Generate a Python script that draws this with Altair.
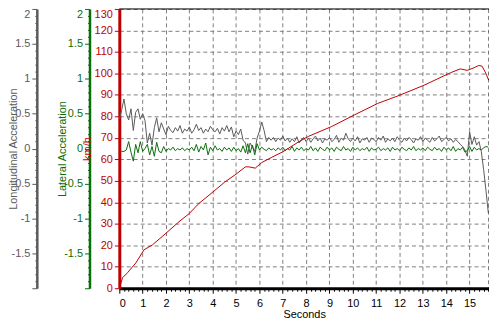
import altair as alt
import pandas as pd

# Longitudinal acceleration (g), sampled every 0.1 s from 0 to 15.8 s
longitudinal = [
    0.42, 0.55, 0.71, 0.50, 0.41, 0.57, 0.26, 0.52, 0.57, 0.42,
    0.50, 0.40, 0.08, 0.22, 0.05, 0.30, 0.44, 0.24, 0.37, 0.28,
    0.20, 0.32, 0.26, 0.23, 0.30, 0.25, 0.33, 0.22, 0.28, 0.25,
    0.31, 0.22, 0.27, 0.35, 0.26, 0.30, 0.22, 0.28, 0.24, 0.32,
    0.27, 0.24, 0.29, 0.21, 0.30, 0.25, 0.33, 0.24, 0.31, 0.17,
    0.25, 0.20, 0.28, 0.12, 0.08, -0.08, 0.08, 0.02, -0.04, 0.15,
    0.25, 0.38, 0.26, 0.10, 0.16, 0.12, 0.16, 0.10, 0.15, 0.12,
    0.18, 0.11, 0.15, 0.09, 0.14, 0.10, 0.17, 0.08, 0.13, 0.16,
    0.10, 0.15, 0.09, 0.14, 0.18, 0.11, 0.15, 0.08, 0.14, 0.12,
    0.16, 0.10, 0.13, 0.19, 0.09, 0.15, 0.12, 0.22, 0.14, 0.10,
    0.15, 0.11, 0.17, 0.08, 0.14, 0.12, 0.16, 0.09, 0.15, 0.13,
    0.10, 0.16, 0.12, 0.18, 0.09, 0.14, 0.11, 0.15, 0.10, 0.17,
    0.12, 0.09, 0.15, 0.11, 0.16, 0.13, 0.08, 0.14, 0.12, 0.17,
    0.10, 0.15, 0.12, 0.09, 0.16, 0.11, 0.14, 0.18, 0.10, 0.13,
    0.16, 0.11, 0.14, 0.09, 0.13, 0.10, 0.06, 0.03, -0.02, -0.11,
    0.24, 0.06, 0.17, 0.05, 0.10, -0.04, -0.30, -0.60, -0.92,
]

# Lateral acceleration (g), sampled every 0.1 s from 0 to 15.8 s
lateral = [
    -0.04, -0.04, -0.04, -0.02, 0.10, -0.05, -0.18, 0.06, -0.06, 0.10,
    -0.04, 0.00, 0.06, -0.09, 0.03, -0.11, 0.09, -0.04, -0.06, 0.03,
    -0.04, 0.00, -0.02, 0.02, -0.03, 0.00, -0.02, 0.01, -0.03, 0.00,
    -0.02, 0.02, -0.03, 0.06, -0.05, 0.03, -0.02, 0.08, -0.09, 0.02,
    -0.03, 0.04, -0.02, 0.00, -0.04, 0.02, -0.02, 0.01, -0.04, 0.02,
    -0.03, 0.00, -0.05, 0.04, -0.06, 0.07, -0.06, 0.05, -0.09, 0.07,
    -0.02, 0.02, -0.01, -0.03, 0.01, -0.02, 0.00, -0.03, 0.01, -0.02,
    0.02, -0.03, 0.00, -0.02, 0.03, -0.04, 0.01, -0.02, 0.02, -0.03,
    0.00, -0.02, 0.03, -0.03, 0.01, -0.04, 0.02, -0.01, -0.03, 0.02,
    -0.02, 0.01, -0.04, 0.02, -0.01, -0.03, 0.03, -0.02, 0.00, -0.04,
    0.02, -0.02, 0.01, -0.03, 0.00, -0.02, 0.02, -0.04, 0.01, -0.02,
    -0.01, 0.02, -0.03, 0.00, -0.02, 0.01, -0.04, 0.02, -0.02, 0.00,
    -0.03, 0.02, -0.01, -0.03, 0.01, -0.02, 0.03, -0.03, 0.00, -0.02,
    0.01, -0.03, 0.02, -0.01, -0.03, 0.02, -0.02, 0.00, -0.04, 0.02,
    -0.02, 0.01, -0.03, 0.03, -0.04, 0.00, -0.02, 0.02, -0.05, -0.03,
    0.03, -0.04, 0.02, -0.02, 0.00, -0.02, 0.01, 0.03, 0.02,
]

# Speed (km/h)
speed_t = [0, 0.14, 0.35, 0.71, 1.06, 1.42, 2.0, 2.55, 3.0, 3.4, 4.0, 4.5,
           5.0, 5.4, 5.55, 5.82, 6.1, 6.5, 7.0, 7.66, 8.1, 9.1, 10.07, 11.06,
           11.9, 13.05, 14.18, 14.6, 14.9, 15.18, 15.39, 15.53, 15.67, 15.82]
speed_v = [0, 4.9, 7.2, 11.8, 17.9, 20.2, 25.6, 30.9, 34.8, 39.4, 44.7, 49.3,
           53.1, 56.5, 56.5, 55.9, 58.5, 60.8, 63.5, 68.0, 70.7, 75.3, 80.7, 86.0,
           89.4, 94.5, 100.3, 102.1, 101.4, 102.6, 103.7, 103.4, 100.6, 96.8]

x_ticks = [round(i * 0.2, 1) for i in range(80)]
acc_ticks = [round(-2 + i * 0.1, 1) for i in range(41)]
kmh_ticks = list(range(0, 131, 10))

t_acc = [round(i * 0.1, 1) for i in range(len(longitudinal))]
rows = []
for t, v in zip(t_acc, longitudinal):
    rows.append({"t": t, "v": v, "s": "long"})
for t, v in zip(t_acc, lateral):
    rows.append({"t": t, "v": v, "s": "lat"})
for t, v in zip(speed_t, speed_v):
    rows.append({"t": t, "v": v, "s": "kmh"})
df = pd.DataFrame(rows)

W, H = 372, 281
GRAY = "#5a5a5a"
GREEN = "#0a6e0a"
RED = "#c00000"
FONT = "Liberation Sans"

major_x = "abs(datum.value - round(datum.value)) < 0.001"
major_a = "abs(datum.value * 2 - round(datum.value * 2)) < 0.001"

x_axis = alt.Axis(
    values=x_ticks,
    labelExpr=f"{major_x} ? toString(round(datum.value)) : ''",
    tickSize={"condition": {"test": major_x, "value": 5}, "value": 3},
    tickColor="black",
    domainColor="black", domainWidth=3,
    grid=True, gridDash=[4, 3], gridColor="#808080",
    gridOpacity={"condition": {"test": f"{major_x} && datum.value > 0", "value": 1}, "value": 0},
    labelColor="black", labelFontSize=11, labelPadding=4, labelFont=FONT,
    title="Seconds", titleFont=FONT, titleFontSize=11, titleFontWeight="normal",
    titleColor="black", titlePadding=0,
)

x_enc = alt.X("t:Q", scale=alt.Scale(domain=[0, 15.83], nice=False, zero=False), axis=x_axis)


def acc_axis(title, color, offset, tx):
    return alt.Axis(
        orient="left", offset=offset, values=acc_ticks,
        labelExpr=f"{major_a} && datum.value > -1.9 ? toString(round(datum.value * 10) / 10) : ''",
        labelBaseline={"condition": {"test": "datum.value > 1.95", "value": "top"}, "value": "middle"},
        tickSize={"condition": {"test": major_a, "value": 5}, "value": 2},
        tickColor=color, domainColor=color, domainWidth=2.5,
        labelColor=color, labelFontSize=11, labelPadding=2, labelFont=FONT,
        grid=False,
        title=title, titleColor=color, titleFont=FONT, titleFontSize=11,
        titleFontWeight="normal", titleX=tx, titleY=H / 2, titleAngle=270,
        titleAlign="center", titleBaseline="middle",
    )


base = alt.Chart(df)

long_line = base.transform_filter(alt.datum.s == "long").mark_line(
    color=GRAY, strokeWidth=1, clip=True
).encode(
    x=x_enc,
    y=alt.Y("v:Q", scale=alt.Scale(domain=[-2, 2], nice=False, zero=False),
            axis=acc_axis("Longitudinal Acceleration", GRAY, 83, -23)),
    order="t:Q",
)

lat_line = base.transform_filter(alt.datum.s == "lat").mark_line(
    color=GREEN, strokeWidth=1, clip=True
).encode(
    x=x_enc,
    y=alt.Y("v:Q", scale=alt.Scale(domain=[-2, 2], nice=False, zero=False),
            axis=acc_axis("Lateral Acceleration", GREEN, 30, -27)),
    order="t:Q",
)

kmh_line = base.transform_filter(alt.datum.s == "kmh").mark_line(
    color=RED, strokeWidth=1, clip=True
).encode(
    x=x_enc,
    y=alt.Y("v:Q", scale=alt.Scale(domain=[0, 130], nice=False),
            axis=alt.Axis(
                orient="left", offset=0, values=kmh_ticks,
                labelBaseline={"condition": {"test": "datum.value > 125", "value": "top"}, "value": "middle"},
                tickColor=RED, tickSize=5, domainColor=RED, domainWidth=3,
                labelColor=RED, labelFontSize=11, labelPadding=2, labelFont=FONT,
                grid=True, gridDash=[4, 3], gridColor="#808080",
                title="km/h", titleColor=RED, titleFont=FONT, titleFontSize=11,
                titleFontWeight="normal", titleX=-32, titleY=H / 2, titleAngle=270,
                titleAlign="center", titleBaseline="middle",
            )),
    order="t:Q",
)

one = pd.DataFrame({"a": [0]})
top_border = alt.Chart(one).mark_rule(color="black", strokeWidth=1).encode(
    x=alt.value(0), x2=alt.value(W), y=alt.value(0)
)
right_border = alt.Chart(one).mark_rule(color="black", strokeWidth=1, strokeDash=[4, 3]).encode(
    x=alt.value(W), y=alt.value(0), y2=alt.value(H)
)

chart = alt.layer(long_line, lat_line, kmh_line, top_border, right_border).resolve_scale(
    y="independent"
).properties(
    width=W, height=H,
    autosize=alt.AutoSizeParams(type="none"),
    padding={"left": 112, "top": 0, "right": 0, "bottom": 30},
    background="white",
).configure_view(stroke=None)

chart.save("out.html", embed_options={"renderer": "svg", "actions": False})
